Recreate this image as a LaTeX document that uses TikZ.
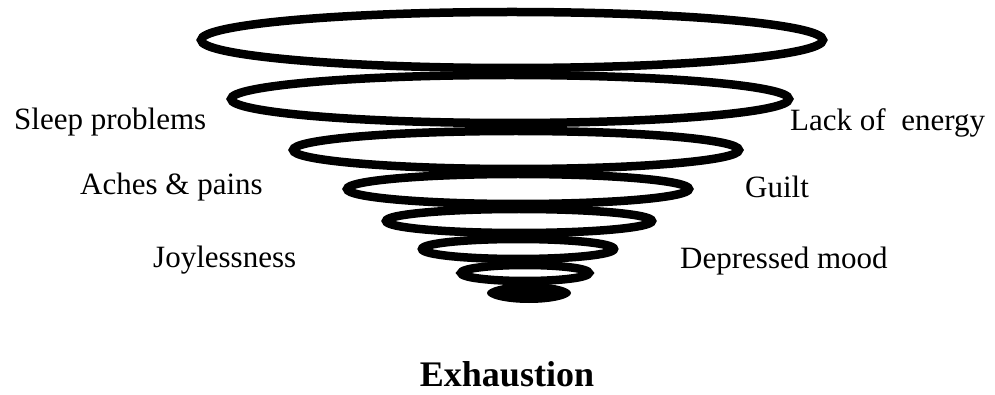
\documentclass[tikz,border=0pt]{standalone}
\usepackage{fontspec}
\setmainfont{Liberation Serif}
\tikzset{
  ring/.style={line width=8.5pt},
  symptom/.style={inner sep=0pt, font=\fontsize{31}{36}\selectfont},
  title/.style={inner sep=0pt, font=\fontsize{36}{42}\selectfont\bfseries}
}
\begin{document}
\begin{tikzpicture}[x=1pt,y=-1pt]
\useasboundingbox (0,0) rectangle (995,395);

% the spiral of rings, top to bottom
\foreach \cx/\cy/\rx/\ry in {512/40/311/28, 510/99/279/24, 516/150/223/19,
  518/189/171/15, 519/221/133/12, 518/249/96/10, 525/273/64/8}
  \draw[ring] (\cx,\cy) ellipse[x radius=\rx, y radius=\ry];
\fill (529,293) ellipse[x radius=42, y radius=10];

% symptoms on the left
\node[symptom, anchor=west] (sleep) at (14,122) {Sleep problems};
\node[symptom, anchor=west] (aches) at (80,187) {Aches \& pains};
\node[symptom, anchor=west] (joy) at (153,260) {Joylessness};

% symptoms on the right
\node[symptom, anchor=west] (lack) at (790,123) {Lack of\ \ energy};
\node[symptom, anchor=west] (guilt) at (745,187) {Guilt};
\node[symptom, anchor=west] (mood) at (680,261) {Depressed mood};

\node[title, anchor=base] (exh) at (507,386) {Exhaustion};
\end{tikzpicture}
\end{document}
